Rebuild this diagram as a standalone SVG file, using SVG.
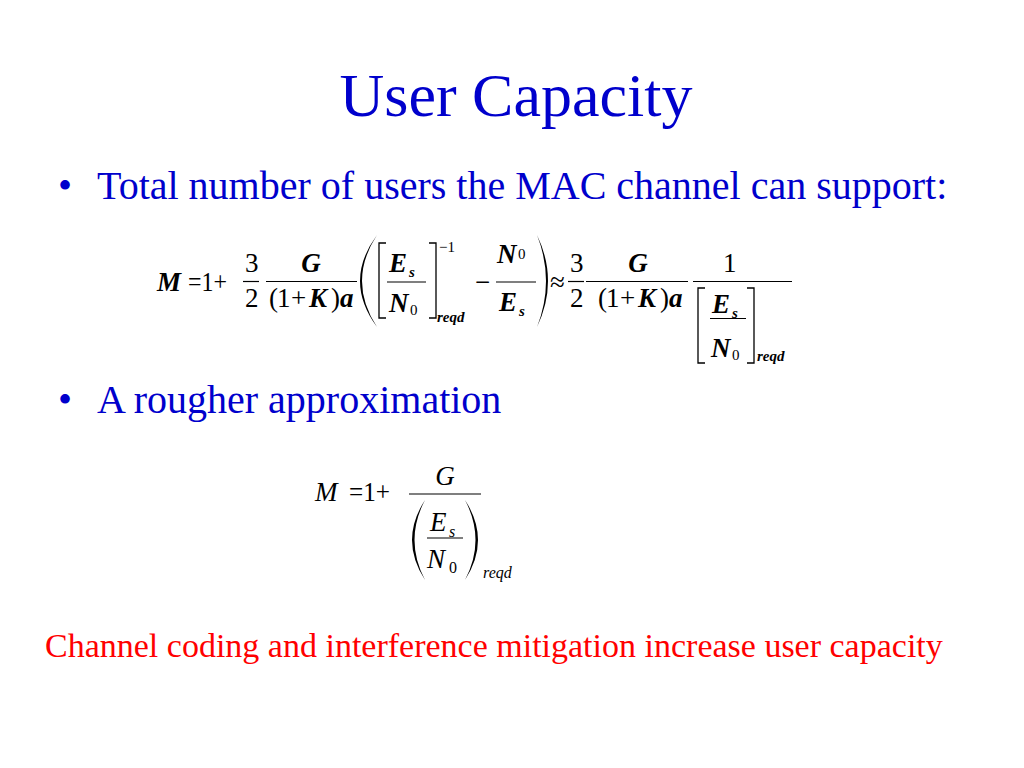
<svg xmlns="http://www.w3.org/2000/svg" width="1024" height="768" viewBox="0 0 1024 768">
<style>
text{font-family:"Liberation Serif","Times New Roman",serif}
.title{font-size:62px;fill:#0000CC}
.body{font-size:40px;fill:#0000CC}
.note{font-size:34px;fill:#FF0000}
.m{font-size:27px;fill:#000}
.m2{font-size:27px;fill:#000}
.bi{font-weight:bold;font-style:italic}
.it{font-style:italic}
.s{font-size:15px}
.s2{font-size:16px}
.ln{stroke:#000;stroke-width:1.2;fill:none}
.br{stroke:#000;stroke-width:1.3;fill:none}
.pa{fill:#000}
</style>
<rect width="1024" height="768" fill="#fff"/>
<g id="title"><text class="title" x="516" y="116" text-anchor="middle">User Capacity</text></g>
<g id="bullet1"><text class="body" x="58" y="199">•</text><text class="body" x="97" y="199">Total number of users the MAC channel can support:</text></g>
<g id="formula1">
<text class="m bi" x="157" y="291">M</text>
<text class="m" x="188" y="291" textLength="39" lengthAdjust="spacingAndGlyphs">=1+</text>
<text class="m" x="245" y="272">3</text>
<line class="ln" x1="243" y1="281.5" x2="259" y2="281.5"/>
<text class="m" x="245" y="307">2</text>
<text class="m bi" x="311" y="272" text-anchor="middle">G</text>
<line class="ln" x1="266" y1="281.5" x2="357" y2="281.5"/>
<text class="m" y="307"><tspan x="269">(</tspan><tspan x="277">1</tspan><tspan x="291">+</tspan><tspan class="bi" x="309">K</tspan><tspan x="331">)</tspan><tspan class="bi" x="340">a</tspan></text>
<path class="pa" d="M377,235 Q343,281 377,327 Q347,281 377,235Z"/>
<path class="br" d="M386,243 H379 V318 H386"/>
<text class="m bi" x="389" y="272">E</text><text class="s bi" x="409" y="277">s</text>
<line class="ln" x1="387" y1="282" x2="426" y2="282"/>
<text class="m bi" x="389" y="312">N</text><text class="s" x="410" y="315">0</text>
<path class="br" d="M429,243 H436 V318 H429"/>
<text class="s" x="439" y="252">−1</text>
<text class="s bi" x="437" y="322">reqd</text>
<text class="m" x="475" y="291">−</text>
<text class="m bi" x="497" y="263">N</text><text class="s" x="518" y="259">0</text>
<line class="ln" x1="496" y1="282" x2="536" y2="282"/>
<text class="m bi" x="499" y="311">E</text><text class="s bi" x="519" y="316">s</text>
<path class="pa" d="M537,235 Q559,281 537,327 Q555,281 537,235Z"/>
<text class="m" x="550" y="291">≈</text>
<text class="m" x="570" y="272">3</text>
<line class="ln" x1="568" y1="281.5" x2="584" y2="281.5"/>
<text class="m" x="570" y="307">2</text>
<text class="m bi" x="638" y="272" text-anchor="middle">G</text>
<line class="ln" x1="586" y1="281.5" x2="688" y2="281.5"/>
<text class="m" y="307"><tspan x="598">(</tspan><tspan x="606">1</tspan><tspan x="620">+</tspan><tspan class="bi" x="638">K</tspan><tspan x="660">)</tspan><tspan class="bi" x="669">a</tspan></text>
<text class="m" x="723" y="272">1</text>
<line class="ln" x1="693" y1="281.5" x2="792" y2="281.5"/>
<path class="br" d="M705,288 H698 V363 H705"/>
<text class="m bi" x="712" y="313">E</text><text class="s bi" x="732" y="318">s</text>
<line class="ln" x1="710" y1="318.5" x2="746" y2="318.5"/>
<text class="m bi" x="711" y="357">N</text><text class="s" x="732" y="360">0</text>
<path class="br" d="M747,288 H754 V363 H747"/>
<text class="s bi" x="757" y="361">reqd</text>
</g>
<g id="bullet2"><text class="body" x="58" y="413">•</text><text class="body" x="97" y="413">A rougher approximation</text></g>
<g id="formula2">
<text class="m2 it" x="315" y="501">M</text>
<text class="m2" x="349" y="501" textLength="41" lengthAdjust="spacingAndGlyphs">=1+</text>
<line class="ln" x1="409" y1="494" x2="481" y2="494"/>
<text class="m2 it" x="445" y="485" text-anchor="middle">G</text>
<path class="pa" d="M425,500 Q399,540 425,580 Q404,540 425,500Z"/>
<text class="m2 it" x="430" y="531">E</text><text class="s2 it" x="449" y="537">s</text>
<line class="ln" x1="427" y1="538" x2="463" y2="538"/>
<text class="m2 it" x="427" y="568">N</text><text class="s2" x="449" y="573">0</text>
<path class="pa" d="M465,500 Q491,540 465,580 Q486,540 465,500Z"/>
<text class="s2 it" x="483" y="578">reqd</text>
</g>
<g id="note"><text class="note" x="45" y="657">Channel coding and interference mitigation increase user capacity</text></g>
</svg>
